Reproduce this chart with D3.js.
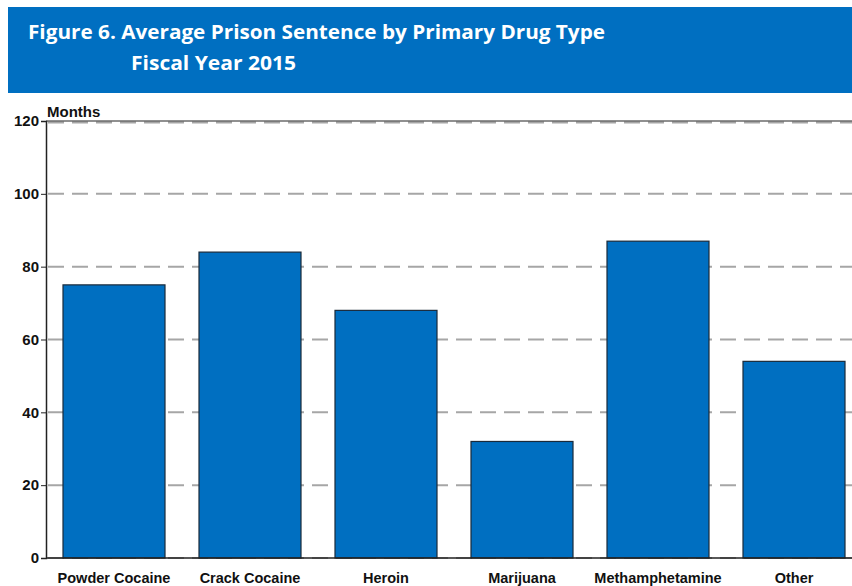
<!DOCTYPE html>
<html>
<head>
<meta charset="utf-8">
<script src="https://cdn.jsdelivr.net/npm/d3@7"></script>
<style>
  html, body { margin: 0; padding: 0; background: #fff; }
  svg { display: block; }
</style>
</head>
<body>
<svg id="chart" width="852" height="586"></svg>
<script>
// Average prison sentence (months) by primary drug type, FY2015
const drugTypes = ["Powder Cocaine", "Crack Cocaine", "Heroin", "Marijuana", "Methamphetamine", "Other"];
const avgMonths = [75, 84, 68, 32, 87, 54];
const yTicks = [0, 20, 40, 60, 80, 100, 120];
const titleLines = ["Figure 6. Average Prison Sentence by Primary Drug Type", "Fiscal Year 2015"];

const data = drugTypes.map((d, i) => ({ type: d, value: avgMonths[i] }));

const svg = d3.select("#chart");
const W = 852, H = 586;
const blue = "#006fc1";
const labelFont = "Arial, 'Liberation Sans', sans-serif";

// Header banner
svg.append("rect").attr("x", 8).attr("y", 7).attr("width", W - 8).attr("height", 86).attr("fill", blue);
svg.append("text").attr("x", 28).attr("y", 39)
  .attr("fill", "#fff").attr("font-family", "'Open Sans', sans-serif").attr("font-weight", 700)
  .attr("font-size", 20).attr("textLength", 577).attr("lengthAdjust", "spacingAndGlyphs")
  .text(titleLines[0]);
svg.append("text").attr("x", 131).attr("y", 70)
  .attr("fill", "#fff").attr("font-family", "'Open Sans', sans-serif").attr("font-weight", 700)
  .attr("font-size", 20).attr("textLength", 165).attr("lengthAdjust", "spacingAndGlyphs")
  .text(titleLines[1]);

// Plot area
const x0 = 46, yTop = 121, yBot = 558;
const x = d3.scaleBand().domain(drugTypes).range([x0, 862]).paddingInner(0.25).paddingOuter(0.125);
const y = d3.scaleLinear().domain([0, 120]).range([yBot, yTop]);

// Dashed gridlines
svg.append("g").selectAll("line").data(yTicks).join("line")
  .attr("x1", x0).attr("x2", W)
  .attr("y1", d => y(d) + (d === 120 ? 1.5 : 0)).attr("y2", d => y(d) + (d === 120 ? 1.5 : 0))
  .attr("stroke", "#a6a6a6").attr("stroke-width", 2).attr("stroke-dasharray", "16,8")
  .attr("stroke-dashoffset", -2);

// Solid frame line along the top
svg.append("line").attr("x1", x0).attr("x2", W).attr("y1", yTop).attr("y2", yTop)
  .attr("stroke", "#222").attr("stroke-width", 1.2);

// Bars
svg.append("g").selectAll("rect").data(data).join("rect")
  .attr("x", d => x(d.type)).attr("width", x.bandwidth())
  .attr("y", d => y(d.value)).attr("height", d => y(0) - y(d.value))
  .attr("fill", blue).attr("stroke", "#1a2a3a").attr("stroke-width", 1.2);

svg.append("line").attr("x1", x0).attr("x2", W).attr("y1", yBot).attr("y2", yBot)
  .attr("stroke", "#222").attr("stroke-width", 1.5);

// Y axis
const yAxis = d3.axisLeft(y).tickValues(yTicks).tickSize(5).tickPadding(2);
const gy = svg.append("g").attr("transform", `translate(${x0},0)`).call(yAxis);
gy.select(".domain").attr("stroke", "#222").attr("stroke-width", 1.5);
gy.selectAll(".tick line").attr("stroke", "#222");
gy.selectAll(".tick text")
  .attr("font-family", labelFont).attr("font-weight", 700)
  .attr("font-size", 15).attr("fill", "#111");

// X axis labels
const xAxis = d3.axisBottom(x).tickSize(0).tickPadding(15);
const gx = svg.append("g").attr("transform", `translate(0,${yBot})`).call(xAxis);
gx.select(".domain").remove();
gx.selectAll(".tick text")
  .attr("font-family", labelFont).attr("font-weight", 700)
  .attr("font-size", 14.5).attr("fill", "#111");

// Axis unit label
svg.append("text").attr("x", 47).attr("y", 117)
  .attr("font-family", labelFont).attr("font-weight", 700)
  .attr("font-size", 15).attr("fill", "#111").text("Months");
</script>
</body>
</html>
